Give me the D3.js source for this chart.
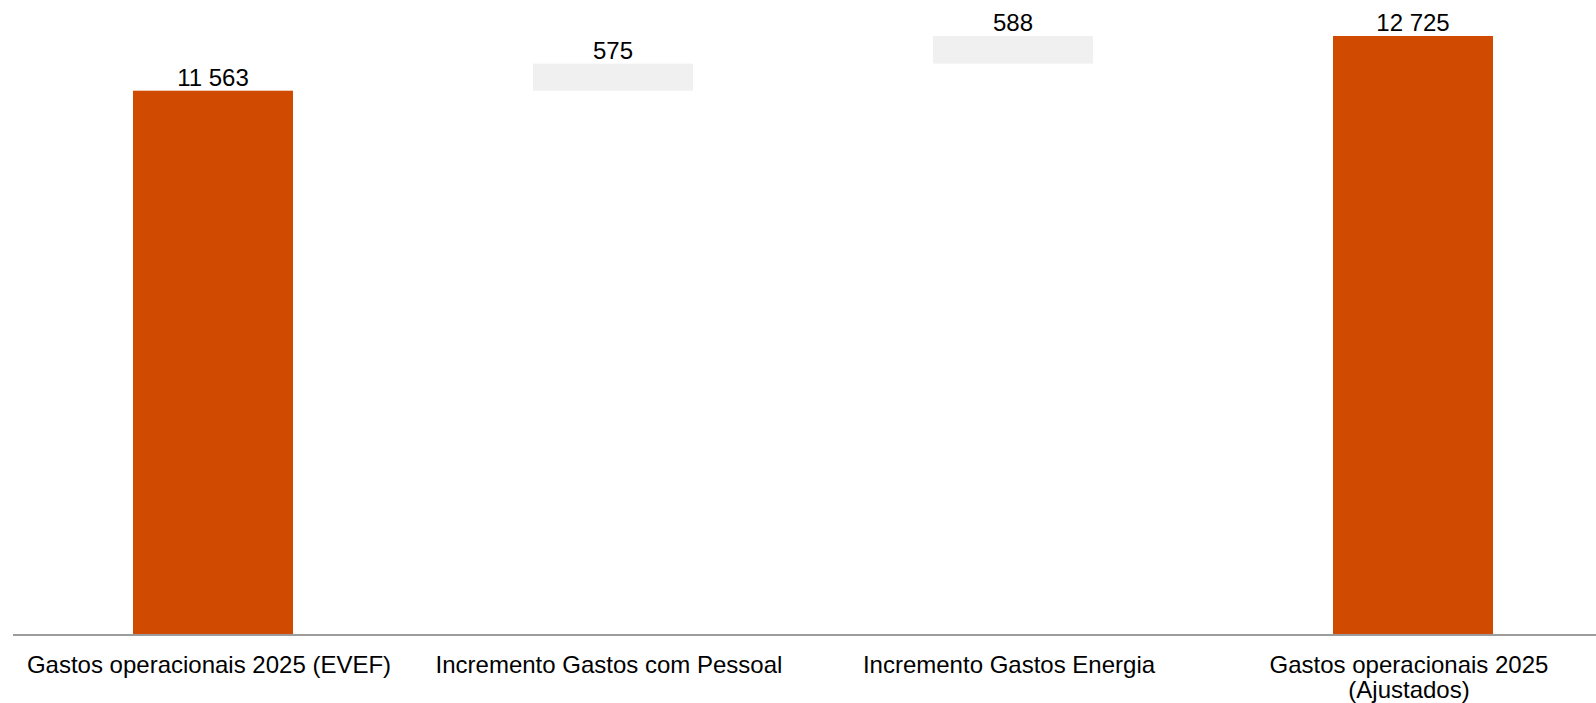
<!DOCTYPE html>
<html>
<head>
<meta charset="utf-8">
<script src="https://cdn.jsdelivr.net/npm/d3@7"></script>
<style>
  html, body { margin: 0; padding: 0; background: #fff; }
  svg { display: block; font-family: Arial, "Liberation Sans", sans-serif; }
</style>
</head>
<body>
<svg id="chart" width="1596" height="703"></svg>
<script>
// Waterfall of operating expenses 2025
const categories = [
  ["Gastos operacionais 2025 (EVEF)"],
  ["Incremento Gastos com Pessoal"],
  ["Incremento Gastos Energia"],
  ["Gastos operacionais 2025", "(Ajustados)"]
];
const values = [11563, 575, 588, 12725];
const valueLabels = ["11 563", "575", "588", "12 725"];
const kinds = ["total", "delta", "delta", "total"];

const W = 1596, H = 703;
const svg = d3.select("#chart");

// build floating segments
let running = 0;
const rows = values.map((v, i) => {
  let y0, y1;
  if (kinds[i] === "total") { y0 = 0; y1 = v; running = v; }
  else { y0 = running; y1 = running + v; running = y1; }
  return { i, key: i, lines: categories[i], v, label: valueLabels[i], kind: kinds[i], y0, y1 };
});

const x = d3.scaleBand()
  .domain(rows.map(d => d.key))
  .range([13, 1613])
  .paddingInner(0.6)
  .paddingOuter(0.3);

const y = d3.scaleLinear()
  .domain([0, 12725])
  .range([635, 36]);

const colors = { total: "#d04a02", delta: "#f0f0f0" };

svg.append("g").selectAll("rect")
  .data(rows)
  .join("rect")
  .attr("x", d => x(d.key))
  .attr("width", x.bandwidth())
  .attr("y", d => y(d.y1))
  .attr("height", d => y(d.y0) - y(d.y1) - (d.y0 === 0 ? 1 : 0))
  .attr("fill", d => colors[d.kind]);

// value labels
svg.append("g").selectAll("text")
  .data(rows)
  .join("text")
  .attr("x", d => x(d.key) + x.bandwidth() / 2)
  .attr("y", d => y(d.y1) - 5)
  .attr("text-anchor", "middle")
  .attr("font-size", 24)
  .attr("fill", "#000")
  .text(d => d.label);

// baseline
svg.append("line")
  .attr("x1", 13).attr("x2", W)
  .attr("y1", y(0)).attr("y2", y(0))
  .attr("stroke", "#9c9c9c")
  .attr("stroke-width", 2);

// category labels
const cat = svg.append("g").selectAll("text")
  .data(rows)
  .join("text")
  .attr("x", d => x(d.key) + x.bandwidth() / 2 - 4)
  .attr("y", 673)
  .attr("text-anchor", "middle")
  .attr("font-size", 24)
  .attr("fill", "#000");
cat.selectAll("tspan")
  .data(d => d.lines.map(l => ({ l, cx: x(d.key) + x.bandwidth() / 2 - 4 })))
  .join("tspan")
  .attr("x", t => t.cx)
  .attr("dy", (t, j) => j === 0 ? 0 : 25)
  .text(t => t.l);
</script>
</body>
</html>
